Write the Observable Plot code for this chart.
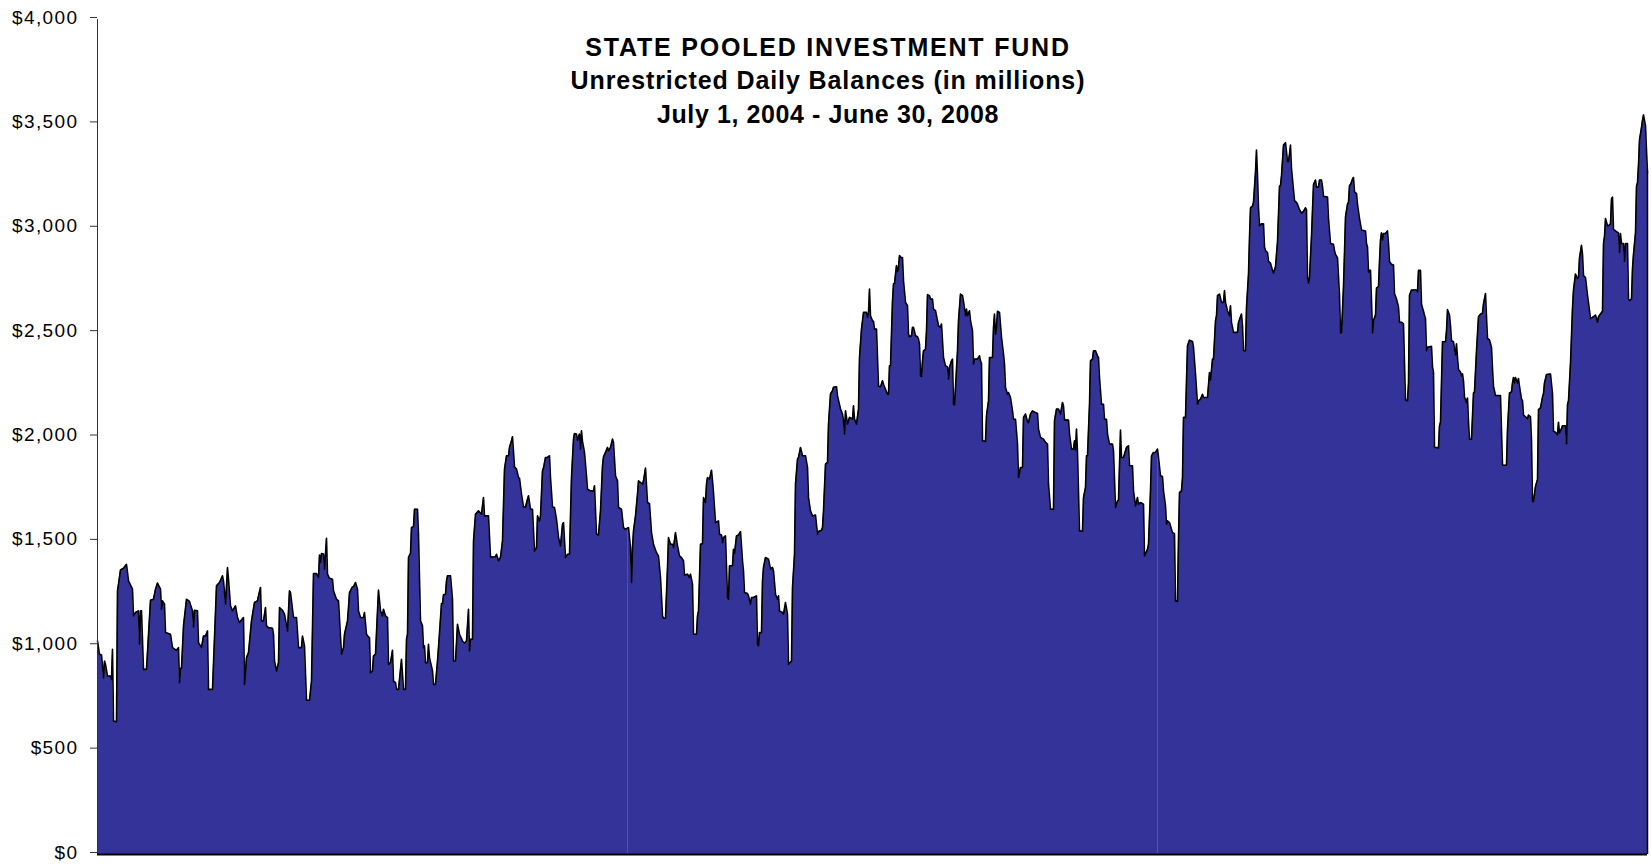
<!DOCTYPE html>
<html>
<head>
<meta charset="utf-8">
<script src="https://cdn.jsdelivr.net/npm/d3@7"></script>
<script src="https://cdn.jsdelivr.net/npm/@observablehq/plot@0.6"></script>
<style>
  html, body { margin: 0; padding: 0; background: #fff; }
  #wrap { position: relative; width: 1651px; height: 864px; font-family: "Liberation Sans", Arial, sans-serif; overflow: hidden; }
  #title { position: absolute; left: 0; top: 30.5px; width: 1656px; text-align: center; font-weight: bold;
           font-size: 25px; line-height: 33.5px; color: #000; pointer-events: none; }
</style>
</head>
<body>
<div id="wrap"><div id="chart"></div><div id="title"></div></div>
<script>
// Title lines
const titleLines = [
  "STATE POOLED INVESTMENT FUND",
  "Unrestricted Daily Balances (in millions)",
  "July 1, 2004 - June 30, 2008"
];
// Y axis ticks (millions of dollars)
const yTicks = [0, 500, 1000, 1500, 2000, 2500, 3000, 3500, 4000];
// Positions where the fiscal-year series meet (observation number)
const seams = [530, 1060];

const obs1 = [0,2,4,6,7,8,10,13,14,15, 16,19,20,21,23,26,29,31,35,36, 38,41,42,43,44,46,49,53,56,58,
  60,63,64,65,67,68,73,75,79,81, 82,83,84,86,89,92,95,96,97,100, 101,104,106,108,110,111,115,117,119,122,
  125,126,128,130,131,133,135,138,140,142, 146,147,149,151,154,157,160,161,163,164, 166,168,169,171,175,176,177,179,181,182,
  185,187,190,192];
const bal1 = [1023,959,956,847,927,911,855,855,839,983, 640,636,1263,1295,1363,1371,1390,1311,1271,1143, 1159,1167,1007,1167,1167,887,887,1218,1223,1271,
  1300,1271,1175,1215,1199,1063,1055,991,978,991, 823,892,892,1095,1223,1212,1167,1090,1170,1167, 1015,991,1047,1047,1071,791,791,1039,1287,1303,
  1335,1311,1199,1375,1319,1191,1167,1191,1135,1111, 1135,815,943,967,1119,1207,1215,1239,1279,1119, 1119,1183,1095,1087,1084,1055,927,879,919,1183,
  1170,1151,1071,1263];

const obs2 = [193,196,199,201,204,205,207,209,212,214, 216,219,221,222,223,224,226,227,229,230, 232,235,236,239,241,244,246,247,250,251,
  252,255,256,258,260,261,263,266,267,269, 271,272,273,275,276,278,280,281,283,285, 286,288,290,291,293,295,296,298,299,301,
  303,304,306,308,309,310,311,313,314,316, 317,320,321,323,325,326,327,328,330,331, 332,335,336,338,340,341,344,345,346,348,
  349,350,353,355,356,358,360,362,365,367, 369,371,372,373,375,376,378,381,384,386, 387,391];
const bal2 = [1255,1135,1135,991,991,1047,999,739,739,831, 1346,1346,1327,1435,1399,1442,1439,1367,1515,1343, 1323,1319,1263,1223,1215,959,991,1055,1119,1183,
  1255,1282,1282,1303,1271,1167,1135,1135,1159,1055, 1042,1039,871,879,951,959,1167,1267,1167,1143, 1175,1143,1135,911,919,978,831,823,791,791,
  887,935,791,791,1031,1055,1423,1442,1566,1570, 1654,1654,1534,1119,1095,991,999,919,919,1007, 943,879,815,815,927,991,1202,1202,1244,1247,
  1311,1335,1335,1223,927,927,1103,1055,1023,1012, 1023,1175,975,1031,1031,1502,1630,1646,1630,1710, 1622,1622];

const obs3 = [393,398,399,401,403,405,407,409,411,412, 414,415,417,419,421,422,424,426,428,430, 431,433,435,437,439,440,442,443,445,446,
  448,450,452,453,455,457,459,461,463,465, 466,468,470,472,474,476,477,479,480,482, 483,484,485,487,489,490,493,496,497,499,
  501,503,505,506,508,510,511,513,515,516, 518,520,521,524,526,528,531,533,534,535, 536,538,540,541,545,546,548,550,552,554,
  556,559,561,563,565,566,568,570,571,573, 575,576,578,580,582,584,586,587,590,592];
const bal3 = [1425,1426,1438,1407,1423,1502,1846,1910,1910,1950, 1982,2001,1857,1846,1806,1803,1726,1665,1665,1702, 1718,1654,1654,1454,1470,1622,1598,1622,1838,1851,
  1902,1902,1910,1806,1665,1662,1606,1519,1478,1582, 1590,1423,1438,1438,1806,1990,2017,2014,1985,2014, 1942,2030,1979,1926,1814,1750,1742,1742,1766,1534,
  1531,1646,1862,1905,1926,1950,1934,1950,1990,1974, 1814,1790,1662,1654,1566,1558,1566,1470,1303,1470, 1550,1622,1726,1790,1774,1790,1851,1686,1680,1542,
  1486,1446,1430,1327,1143,1132,1132,1375,1518,1486, 1486,1470,1542,1478,1430,1422,1407,1339,1343,1327];

const obs4 = [593,595,596,599,600,601,603,605,606,608, 609,610,612,614,615,616,618,621,622,624, 625,626,628,630,631,632,635,636,637,639,
  641,643,645,646,647,650,651,653,654,656, 659,660,661,662,664,665,666,668,671,673, 675,676,678,680,681,682,685,686,688,690,
  691,694,695,697,698,700,701,703,705,708, 710,711,713,715,718,720,721,724,725,726, 728,730,731,733,735,736,739,740,743,745,
  746,747,748,750,752,755,756,757,759,761];
const bal4 = [1343,1295,1055,1055,1143,1167,1486,1489,1710,1686, 1774,1806,1798,1841,1790,1734,1590,1598,1534,1531, 1494,1518,1526,1231,1223,1383,1383,1462,1442,1526,
  1531,1547,1407,1358,1255,1250,1239,1199,1231,1231, 1239,1007,999,1063,1063,1311,1375,1423,1415,1367, 1375,1359,1247,1223,1239,1167,1159,1151,1207,1151,
  911,927,1279,1438,1774,1894,1902,1950,1910,1910, 1854,1710,1646,1622,1626,1534,1547,1553,1566,1646, 1870,1878,2062,2206,2222,2238,2241,2197,2134,2110,
  2078,2014,2126,2062,2094,2086,2150,2086,2062,2134];

const obs5 = [762,764,766,769,770,771,772,773,775,776, 777,779,780,781,783,785,786,788,790,791, 792,793,795,796,797,799,800,801,802,804,
  805,806,808,810,811,812,814,815,816,818, 820,821,822,823,824,825,826,828,829,830, 832,833,835,836,838,840,841,843,844,846,
  848,850,851,852,854,855,856,857,858,860, 861,863,865,866,868,869,870,872,873,875, 876,877,880,882,883,884,885,888,889,891,
  892,895,896,897,898,899,900,902,904,906, 907,908,910,911,913,915,916,918,920,921, 923,925,926,928,930,931,933,935,938,940,
  941,943,946,948,950,951,953];
const bal5 = [2381,2517,2597,2597,2573,2597,2709,2581,2557,2554, 2517,2517,2381,2245,2240,2269,2253,2229,2205,2205, 2341,2341,2653,2733,2736,2821,2793,2813,2869,2857,
  2860,2749,2645,2629,2493,2480,2485,2525,2525,2485, 2480,2469,2445,2293,2290,2365,2413,2420,2509,2682, 2677,2661,2661,2613,2605,2557,2533,2525,2541,2381,
  2341,2336,2277,2333,2365,2373,2157,2154,2237,2413, 2557,2685,2677,2650,2581,2613,2581,2605,2557,2509, 2349,2373,2373,2389,2365,2352,1982,1979,2102,2173,
  2381,2381,2525,2589,2493,2525,2602,2597,2477,2397, 2349,2237,2205,2213,2189,2125,2085,2085,1966,1806, 1854,1854,2094,2110,2074,2069,2110,2125,2117,2113,
  2038,1998,1990,1974,1966,1774,1654];

const obs6 = [956,957,959,961,963,965,966,967,971,972, 974,976,977,978,979,980,982,985,986,988, 989,990,992,993,995,996,998,1000,1001,1002,
  1004,1006,1007,1009,1010,1012,1015,1016,1018,1020, 1021,1023,1024,1026,1027,1029,1031,1032,1035,1036, 1038,1040,1041,1043,1046,1047,1050,1051,1053,1054,
  1056,1058,1060,1061,1063,1065,1066,1068,1069,1070, 1072,1073,1075,1077,1078,1080,1081,1082,1084,1085, 1086,1088,1089,1090,1092,1095,1096,1098,1100,1101,
  1103,1105,1106,1110,1112,1113,1115,1116,1118,1119, 1120,1122,1124,1126,1127,1128,1130,1132,1133,1134, 1136,1140,1141,1144,1145,1146,1148,1149,1151,1152];
const bal6 = [1654,2078,2134,2134,2110,2165,2149,2081,2081,2014, 1942,1942,1982,1937,2038,1926,1550,1550,1710,1758, 1910,1910,2157,2365,2373,2413,2413,2389,2381,2285,
  2157,2157,2085,2085,2014,1966,1966,1934,1662,1694, 1697,2033,1902,1902,1918,1950,1958,1862,1862,1742, 1670,1710,1678,1686,1678,1430,1462,1486,1742,1910,
  1926,1926,1942,1902,1814,1811,1742,1670,1582,1598, 1590,1574,1542,1537,1215,1212,1510,1734,1742,1806, 2094,2094,2269,2437,2464,2458,2429,2301,2157,2173,
  2181,2205,2189,2189,2309,2273,2373,2373,2557,2581, 2677,2685,2645,2645,2701,2645,2605,2581,2629,2549, 2501,2501,2549,2589,2533,2413,2413,2621,2781,2956];

const obs7 = [1153,1155,1156,1158,1159,1160,1161,1162,1164,1166, 1167,1168,1170,1171,1173,1175,1176,1178,1179,1180, 1182,1183,1184,1186,1187,1188,1190,1191,1192,1193,
  1194,1196,1197,1199,1200,1202,1204,1206,1208,1209, 1210,1211,1212,1214,1215,1216,1218,1219,1221,1222, 1224,1225,1226,1230,1231,1233,1236,1237,1238,1240,
  1242,1243,1244,1246,1247,1248,1250,1251,1252];
const bal7 = [3098,3106,3124,3269,3375,3252,3098,3012,3021,3021, 2910,2893,2884,2841,2833,2798,2786,2815,2875,2935, 3201,3204,3252,3398,3403,3410,3320,3320,3355,3398,
  3286,3184,3132,3124,3115,3089,3072,3081,3098,3089, 2764,2738,2764,2961,3089,3209,3231,3197,3197,3231, 3231,3201,3153,3149,3047,2927,2923,2893,2875,2858,
  2679,2499,2499,2721,2884,3055,3115,3124,3204];

const obs8 = [1253,1255,1256,1257,1259,1260,1262,1264,1268,1269, 1270,1271,1272,1273,1274,1275,1276,1278,1279,1281, 1282,1283,1284,1285,1286,1288,1290,1291,1292,1294,
  1296,1297,1299,1301,1302,1304,1306,1307,1308,1310, 1311,1312,1314,1319,1320,1321,1323,1324,1326,1327, 1328,1329,1330,1334,1335,1336,1337,1341,1342,1343,
  1345,1348,1349,1350,1352,1353,1354,1356,1357,1358, 1359,1360,1361,1363,1364,1365,1366,1367,1369,1370, 1371,1372,1374,1376,1377,1379,1381,1383,1385,1386,
  1388,1389,1390,1392,1394,1395,1396,1398,1401];
const bal8 = [3209,3235,3243,3175,3166,3115,3047,2992,2987,2927, 2910,2790,2798,2798,2653,2499,2559,2584,2713,2721, 2841,2944,2978,2944,2975,2975,2987,2927,2841,2827,
  2824,2687,2661,2622,2550,2550,2542,2353,2177,2174, 2259,2679,2704,2704,2696,2798,2798,2636,2602,2584, 2567,2413,2430,2434,2336,2311,1951,1948,2054,2071,
  2456,2456,2507,2610,2584,2533,2461,2456,2422,2393, 2447,2379,2324,2311,2293,2302,2268,2191,2165,2187, 2071,1989,1989,2211,2216,2413,2576,2588,2593,2639,
  2687,2576,2473,2465,2430,2328,2242,2199,2199];

const obs9 = [1403,1405,1409,1410,1412,1414,1415,1416,1417,1418, 1420,1421,1422,1424,1425,1426,1428,1430,1431,1433, 1434,1435,1436,1438,1440,1441,1443,1445,1446,1447,
  1449,1453,1455,1456,1458,1460,1461,1462,1464,1465, 1468,1469,1470,1471,1473,1475,1476,1478,1480,1481, 1482,1484,1485,1486,1488,1490,1491,1493,1496,1498,
  1500,1501,1505,1506,1507,1508,1510,1511,1513,1514, 1515,1516,1518,1521,1522,1523,1524,1526,1527,1528, 1530,1531,1532,1534,1535,1536,1538,1539,1540,1541,
  1542,1544,1545,1546,1547,1548,1549,1550];
const bal9 = [2199,1865,1865,2037,2211,2216,2259,2285,2259,2285, 2259,2280,2242,2182,2174,2105,2097,2088,2105,2097, 1985,1691,1691,1763,1797,2131,2139,2191,2208,2259,
  2299,2302,2208,2028,2023,2011,2071,2019,2040,2054, 2054,1968,2156,2174,2353,2619,2704,2781,2759,2764, 2858,2918,2875,2773,2764,2679,2644,2567,2576,2584,
  2550,2576,2602,2927,2961,3047,3012,3012,3021,3141, 3149,2995,2987,2978,2884,2975,2927,2927,2841,2927, 2927,2661,2653,2661,2807,2875,2978,3201,3218,3303,
  3423,3483,3517,3543,3517,3492,3372,3269];

const obs = [].concat(obs1, obs2, obs3, obs4, obs5, obs6, obs7, obs8, obs9);
const balance = [].concat(bal1, bal2, bal3, bal4, bal5, bal6, bal7, bal8, bal9);
const data = obs.map((o, i) => ({obs: o, balance: balance[i]}));

const valueAt = o => balance[Math.min(d3.bisectLeft(obs, o), obs.length - 1)];
const seamData = seams.map(s => ({obs: s, balance: valueAt(s)}));
const endData = [data[data.length - 1]];

const chart = Plot.plot({
  width: 1651,
  height: 864,
  marginLeft: 97,
  marginRight: 4,
  marginTop: 19,
  marginBottom: 10,
  style: {fontFamily: "'Liberation Sans', Arial, sans-serif", fontSize: "19px", color: "#000", background: "#fff", overflow: "visible"},
  x: {domain: [0, 1550], axis: null},
  y: {domain: [0, 4000], axis: null},
  marks: [
    Plot.areaY(data, {x: "obs", y1: 0, y2: "balance", fill: "#333399"}),
    Plot.ruleX(seamData, {x: "obs", y1: 0, y2: "balance", stroke: "#5252aa", strokeWidth: 1}),
    Plot.ruleX(endData, {x: "obs", y1: 0, y2: "balance", stroke: "#000", strokeWidth: 1.5}),
    Plot.lineY(data, {x: "obs", y: "balance", stroke: "#000", strokeWidth: 1.6}),
    Plot.axisY({ticks: yTicks, tickSize: 7, tickPadding: 12, dy: -2, label: null, stroke: "#333",
      tickFormat: d => "$" + d3.format(",")(d)}),
    Plot.ruleX([0], {stroke: "#333", strokeWidth: 1}),
    Plot.ruleY([0], {stroke: "#000", strokeWidth: 2})
  ]
});
chart.querySelectorAll('g[aria-label="y-axis tick label"] text').forEach(t => t.setAttribute("letter-spacing", "1.4"));
document.getElementById("chart").appendChild(chart);

const spacing = ["1.8px", "0.9px", "0.6px"];
const title = document.getElementById("title");
titleLines.forEach((line, i) => {
  const div = document.createElement("div");
  div.textContent = line;
  div.style.letterSpacing = spacing[i];
  title.appendChild(div);
});
</script>
</body>
</html>
